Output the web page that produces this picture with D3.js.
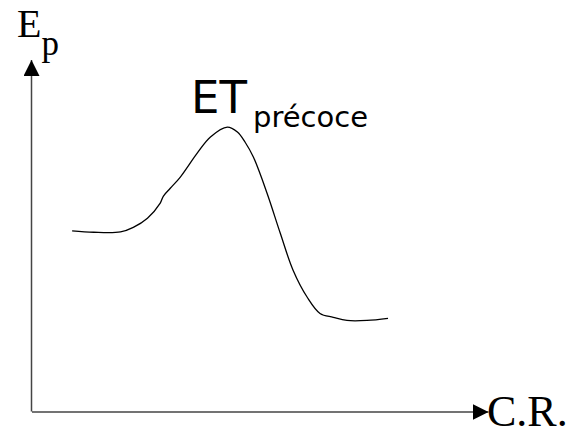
<!DOCTYPE html>
<html>
<head>
<meta charset="utf-8">
<script src="https://cdn.jsdelivr.net/npm/d3@7"></script>
<style>
body { margin: 0; background: #fff; }
</style>
</head>
<body>
<div id="chart"></div>
<script>
let svgWidth = 574;
let svgHeight = 433;

// reaction coordinate (arbitrary units) and potential energy (arbitrary units)
let coordR = [8.9, 13.6, 19.5, 22.3, 25.4, 28.2, 28.9, 30.4, 32.6, 36.3, 39.2, 42.9, 45.1, 46.8, 48.6, 51.6, 54.5, 57.3, 60.4, 63.2, 66.1, 69.1, 73.5, 78.1];
let energyP = [51.4, 51.0, 51.1, 52.4, 55.0, 59.3, 61.3, 63.5, 66.7, 73.5, 78.1, 80.9, 79.5, 76.6, 72.4, 62.1, 50.7, 40.2, 32.5, 27.9, 26.8, 25.9, 25.9, 26.5];

let xLabel = "C.R.";
let yLabel = "E";
let yLabelSub = "p";
let peakLabel = "ET";
let peakLabelSub = "précoce";

let svg = d3.select("#chart")
  .append("svg")
  .attr("width", svgWidth)
  .attr("height", svgHeight);

let defs = svg.append("defs");
defs.append("marker")
  .attr("id", "arrow")
  .attr("viewBox", "0 0 10 10")
  .attr("refX", 10)
  .attr("refY", 5)
  .attr("markerUnits", "userSpaceOnUse")
  .attr("markerWidth", 16)
  .attr("markerHeight", 16)
  .attr("orient", "auto")
  .append("path")
  .attr("d", "M0,0 L10,5 L0,10 Z")
  .attr("fill", "#000");

// scales
let xScale = d3.scaleLinear().domain([0, 100]).range([31.5, 488]);
let yScale = d3.scaleLinear().domain([0, 100]).range([411.5, 60]);

// axes without ticks
let xAxis = svg.append("g")
  .attr("transform", `translate(0, ${yScale(0)})`)
  .call(d3.axisBottom(xScale).tickValues([]).tickSizeOuter(0));
xAxis.select(".domain")
  .attr("stroke", "#444")
  .attr("stroke-width", 1.5)
  .attr("marker-end", "url(#arrow)");

let yAxis = svg.append("g")
  .attr("transform", `translate(${xScale(0)}, 0)`)
  .call(d3.axisLeft(yScale).tickValues([]).tickSizeOuter(0));
yAxis.select(".domain")
  .attr("stroke", "#444")
  .attr("stroke-width", 1.5)
  .attr("d", `M0,${yScale(0)}V${yScale(100)}`)
  .attr("marker-end", "url(#arrow)");

// energy curve
let points = coordR.map((d, i) => [d, energyP[i]]);
let line = d3.line()
  .x(d => xScale(d[0]))
  .y(d => yScale(d[1]))
  .curve(d3.curveCatmullRom.alpha(0.5));

svg.append("path")
  .datum(points)
  .attr("d", line)
  .attr("fill", "none")
  .attr("stroke", "#000")
  .attr("stroke-width", 1.3);

// axis labels
let yText = svg.append("text")
  .attr("x", 17)
  .attr("y", 37)
  .attr("font-family", "Liberation Serif, Times New Roman, serif")
  .attr("font-size", 40)
  .attr("fill", "#000");
yText.append("tspan").text(yLabel);
yText.append("tspan")
  .attr("y", 55)
  .attr("font-size", 35)
  .text(yLabelSub);

svg.append("text")
  .attr("x", 487)
  .attr("y", 426)
  .attr("font-family", "Liberation Serif, Times New Roman, serif")
  .attr("font-size", 44)
  .attr("fill", "#000")
  .text(xLabel);

// transition state label
let peakText = svg.append("text")
  .attr("x", 191)
  .attr("y", 113)
  .attr("font-family", "DejaVu Sans, sans-serif")
  .attr("font-size", 45)
  .attr("fill", "#000");
peakText.append("tspan").text(peakLabel);
peakText.append("tspan")
  .attr("x", 253)
  .attr("y", 127)
  .attr("font-size", 29)
  .text(peakLabelSub);
</script>
</body>
</html>
